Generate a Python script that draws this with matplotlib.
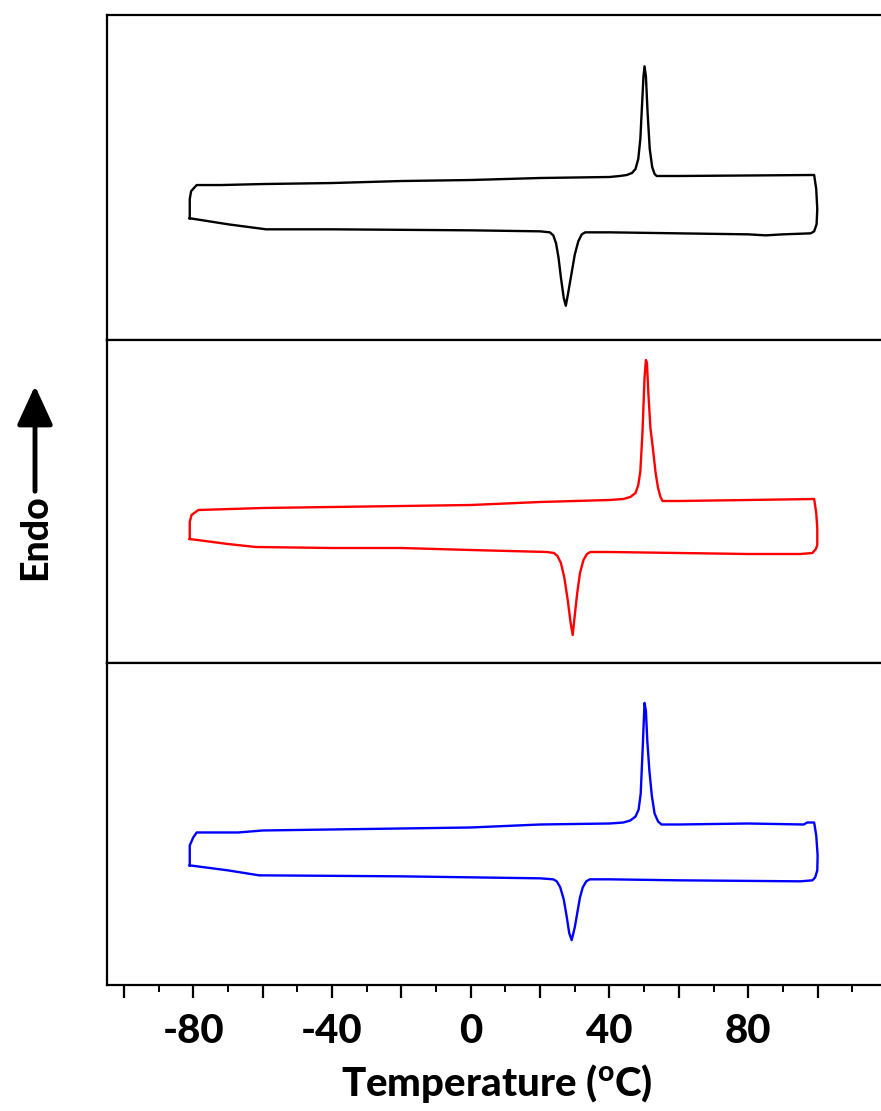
import matplotlib
matplotlib.use("Agg")
import matplotlib.pyplot as plt
from matplotlib.ticker import FixedLocator, FixedFormatter

plt.rcParams['font.family'] = ['Lato', 'DejaVu Sans']
plt.rcParams['mathtext.fontset'] = 'custom'
plt.rcParams['mathtext.rm'] = 'Lato:black'
plt.rcParams['mathtext.it'] = 'Lato:black'
plt.rcParams['mathtext.default'] = 'rm'

# ---- data (temperature in °C, heat flow in arbitrary units, endo up) ----
# each trace: heating run (-80 -> 100), turn-around, cooling run (100 -> -80), closing the loop
temp_black = [-81.0, -81.0, -80.6, -79.0, -72, -60, -40, -20, 0, 20, 40, 43, 45, 46.5, 47.5, 48.3, 48.9, 49.4, 49.8, 50.1,
              50.5, 51.0, 51.6, 52.3, 53.0, 53.6, 60, 80, 99.0,
              99.6, 99.9, 99.7, 99.0, 98.0,
              90, 85, 80, 60, 40, 33, 32, 31, 30, 29, 28, 27.4, 26.8, 26, 25.3, 24.6, 23.8, 22.8, 20, 0, -20, -40, -59, -70, -81.0]
flow_black = [121, 140, 148, 154, 154, 155, 156, 158, 159, 161, 162, 163, 164, 166, 170, 180, 200, 235, 262, 272,
              262, 225, 190, 172, 165, 163, 163, 163.5, 164,
              150, 130, 115, 108, 106,
              105, 104, 105, 106, 107, 107, 105, 98, 85, 65, 45, 34, 42, 62, 82, 96, 104, 107, 108, 109, 109.5, 110, 110, 115, 121]

temp_red = [-81.0, -81.0, -80.5, -78.5, -60, -40, 0, 20, 40, 44, 46, 47.5, 48.3, 48.9, 49.5, 50.1, 50.5, 50.8,
            51.2, 51.8, 52.5, 53.3, 54.0, 54.7, 55.3, 60, 80, 99.0,
            99.6, 99.9, 99.9, 99.5, 98.5,
            95, 80, 60, 40, 34.5, 33.5, 32.5, 31.5, 30.7, 30.0, 29.4, 28.8, 28.0, 27.0, 26.0, 25.0, 24.0, 22, 0, -20, -40, -62, -70, -81.0]
flow_red = [124, 141, 148, 153, 155, 156, 158, 161, 163, 164, 166, 170, 178, 192, 230, 285, 303, 300,
            270, 235, 215, 190, 175, 166, 162, 162, 163, 164,
            150, 135, 118, 114, 110,
            109, 109, 110, 111, 111, 109, 103, 90, 70, 48, 28, 40, 62, 85, 100, 107, 110, 111, 113, 115, 115, 116, 119, 124]

temp_blue = [-81.0, -81.0, -80.0, -79.0, -67, -60, -40, 0, 20, 40, 44, 46, 47.5, 48.4, 49.0, 49.6, 50.1, 50.5,
             50.9, 51.5, 52.2, 53.0, 54.0, 55.0, 60, 80, 96, 97, 99.0,
             99.6, 100.0, 99.9, 99.3, 98.5,
             95, 60, 40, 34.3, 33.3, 32.3, 31.5, 30.7, 30.0, 29.1, 28.4, 27.6, 26.8, 25.8, 24.8, 23.8, 20, 0, -20, -40, -61, -70, -81.0]
flow_blue = [120, 140, 148, 153, 153, 155, 156, 158, 161, 162, 163, 165, 169, 176, 192, 240, 283, 275,
             245, 215, 190, 172, 164, 161, 161, 162, 161, 163, 163,
             150, 130, 115, 108, 105,
             104, 105, 106, 106, 104, 98, 88, 72, 58, 45, 52, 70, 86, 98, 104, 106, 107, 108, 109, 109.5, 110, 115, 120]

series = [(temp_black, flow_black, 'black'),
          (temp_red, flow_red, '#ff0000'),
          (temp_blue, flow_blue, '#0000ff')]

major_ticks = [-100, -80, -60, -40, -20, 0, 20, 40, 60, 80, 100, 120]
tick_labels = ['', '-80', '', '-40', '', '0', '', '40', '', '80', '', '']
minor_ticks = [-90, -70, -50, -30, -10, 10, 30, 50, 70, 90, 110]

W, H = 881, 1111
fig = plt.figure(figsize=(W / 100, H / 100), dpi=100)

left = 106.5 / W
width = (887 - 106.5) / W
tops = [15, 340, 663]
bottoms = [340, 663, 985]
axes = []
for i, (t, f, c) in enumerate(series):
    b = 1 - bottoms[i] / H
    h = (bottoms[i] - tops[i]) / H
    ax = fig.add_axes([left, b, width, h])
    ax.plot(t, f, color=c, lw=1.7, solid_joinstyle='round')
    ax.set_xlim(-105, 120)
    ax.set_ylim(0, 323)
    ax.set_yticks([])
    for s in ax.spines.values():
        s.set_linewidth(1.6)
    if i < 2:
        ax.set_xticks([])
    else:
        ax.xaxis.set_major_locator(FixedLocator(major_ticks))
        ax.xaxis.set_major_formatter(FixedFormatter(tick_labels))
        ax.xaxis.set_minor_locator(FixedLocator(minor_ticks))
        ax.tick_params(axis='x', which='major', direction='out', length=9, width=1.6,
                       labelsize=29, pad=11)
        ax.tick_params(axis='x', which='minor', direction='out', length=5, width=1.4)
        for lab in ax.get_xticklabels():
            lab.set_fontweight('black')
        ax.set_xlabel('Temperature ($^{o}$C)', fontsize=29, fontweight='black', labelpad=9)
    axes.append(ax)

fig.text(35 / W, 1 - 537 / H, 'Endo', rotation=90, ha='center', va='center',
         fontsize=27, fontweight='black')
fig.patches.append(matplotlib.patches.FancyArrowPatch(
    (35 / W, 1 - 494 / H), (35 / W, 1 - 383 / H), transform=fig.transFigure,
    arrowstyle='-|>,head_length=1.2,head_width=0.55', mutation_scale=20,
    lw=3.5, color='black'))

fig.savefig('out.png', dpi=100)
